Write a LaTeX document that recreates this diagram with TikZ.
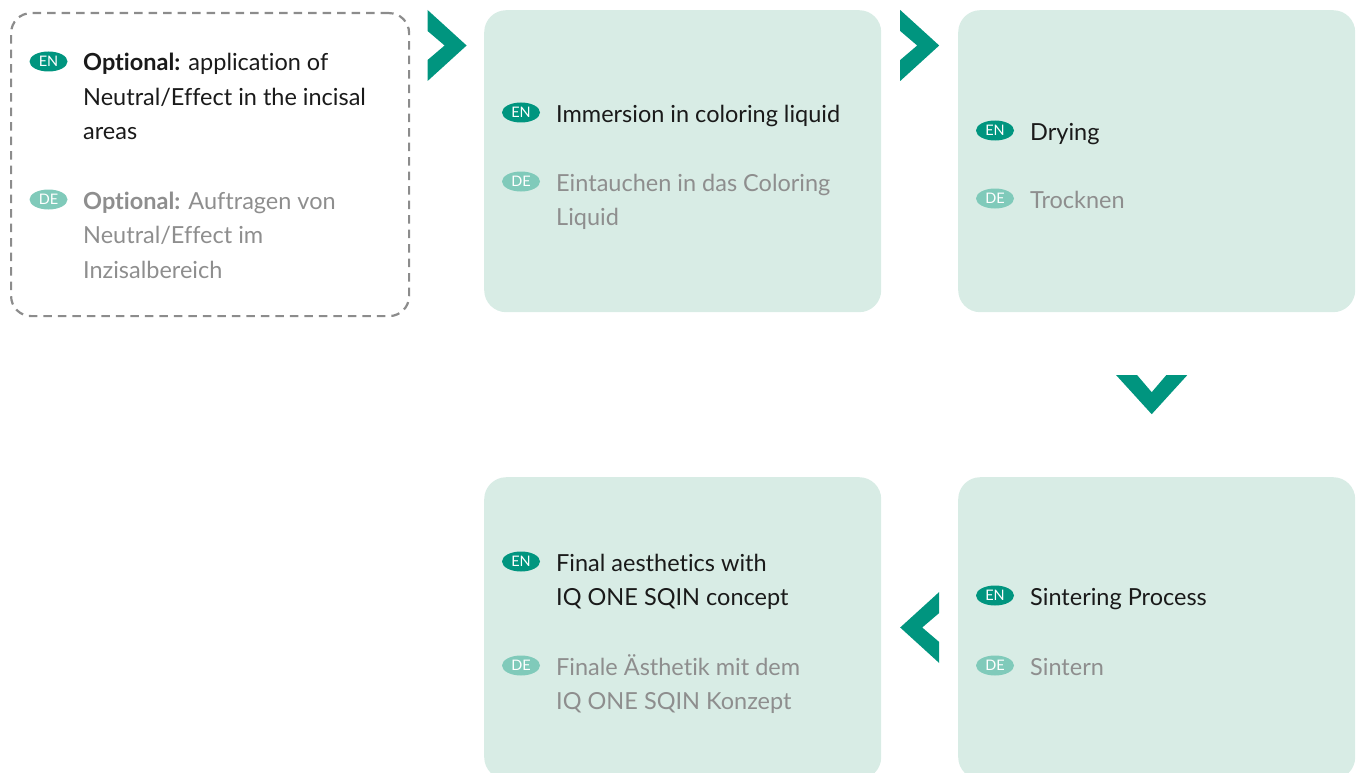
\documentclass[tikz,border=0pt]{standalone}
\usepackage{fontspec}
\setmainfont{Lato}[Ligatures=NoCommon]
\usetikzlibrary{shapes.geometric,calc}

\definecolor{brandteal}{HTML}{00957F}
\definecolor{badgelight}{HTML}{80CABA}
\definecolor{boxfill}{HTML}{D8ECE5}
\definecolor{entextcol}{HTML}{1A1A1A}
\definecolor{detextcol}{HTML}{8E8E8E}
\definecolor{dashgray}{HTML}{8C8C8C}

\tikzset{
  stepbox/.style={fill=boxfill, draw=none, rounded corners=22pt,
    minimum width=397pt, minimum height=302pt, anchor=north west, inner sep=0pt},
  optbox/.style={draw=dashgray, line width=2.2pt, dash pattern=on 8.5pt off 6pt,
    rounded corners=20pt, minimum width=398pt, minimum height=303pt,
    anchor=north west, inner sep=0pt},
  badge/.style={ellipse, inner sep=0pt, minimum width=38pt, minimum height=20pt,
    text=white, font=\fontsize{14.5}{14.5}\selectfont},
  enbadge/.style={badge, fill=brandteal},
  debadge/.style={badge, fill=badgelight},
  entext/.style={anchor=base west, inner sep=0pt, text=entextcol,
    font=\fontsize{23.5}{34.5}\selectfont},
  detext/.style={entext, text=detextcol},
  chev/.pic={\fill[brandteal] (-19.5,-35.5) -- (19.5,0) -- (-19.5,35.5)
    -- (-19.5,14.5) -- (-2.5,0) -- (-19.5,-14.5) -- cycle;}
}
\newcommand{\para}[1]{\parbox[t]{330pt}{\raggedright #1}}

\begin{document}
\begin{tikzpicture}[x=1pt,y=-1pt]
\useasboundingbox (0,0) rectangle (1359,773);
\clip (0,0) rectangle (1359,773);

% step boxes
\node[optbox]  (b1) at (10,12)   {};
\node[stepbox] (b2) at (484,10)  {};
\node[stepbox] (b3) at (958,10)  {};
\node[stepbox] (b4) at (484,477) {};
\node[stepbox] (b5) at (958,477) {};

% step 1 (optional)
\node[enbadge] (b1en) at (48.5,61.5) {EN};
\node[entext]  (t1en) at (83,71) {\para{\textbf{Optional:} application of\\
  Neutral/Effect in the incisal\\ areas}};
\node[debadge] (b1de) at (48.5,199.5) {DE};
\node[detext]  (t1de) at (83,209) {\para{\textbf{Optional:} Auftragen von\\
  Neutral/Effect im\\ Inzisalbereich}};

% step 2
\node[enbadge] (b2en) at (521,112.5) {EN};
\node[entext]  (t2en) at (556,122) {\para{Immersion in coloring liquid}};
\node[debadge] (b2de) at (521,181.5) {DE};
\node[detext]  (t2de) at (556,191) {\para{Eintauchen in das Coloring\\ Liquid}};

% step 3
\node[enbadge] (b3en) at (995,130.5) {EN};
\node[entext]  (t3en) at (1030,140) {\para{Drying}};
\node[debadge] (b3de) at (995,198.5) {DE};
\node[detext]  (t3de) at (1030,208) {\para{Trocknen}};

% step 4 (sintering)
\node[enbadge] (b5en) at (995,595.5) {EN};
\node[entext]  (t5en) at (1030,605) {\para{Sintering Process}};
\node[debadge] (b5de) at (995,665.5) {DE};
\node[detext]  (t5de) at (1030,675) {\para{Sintern}};

% step 5 (final)
\node[enbadge] (b4en) at (521,561.5) {EN};
\node[entext]  (t4en) at (556,571) {\para{Final aesthetics with\\ IQ ONE SQIN concept}};
\node[debadge] (b4de) at (521,665.5) {DE};
\node[detext]  (t4de) at (556,675) {\para{Finale Ästhetik mit dem\\ IQ ONE SQIN Konzept}};

% flow chevrons between the steps
\coordinate (c12) at ($(b1.north east)!0.5!(b2.north west) + (0,34.5)$);
\coordinate (c23) at ($(b2.north east)!0.5!(b3.north west) + (0,35.5)$);
\coordinate (c35) at ($(b3.south)!0.5!(b5.north) + (-5,0)$);
\coordinate (c54) at ($(b4.north east)!0.5!(b5.north west) + (0,150.5)$);
\pic at (c12) {chev};
\pic at (c23) {chev};
\pic[rotate=-90] at (c35) {chev};
\pic[rotate=180] at (c54) {chev};
\end{tikzpicture}
\end{document}
